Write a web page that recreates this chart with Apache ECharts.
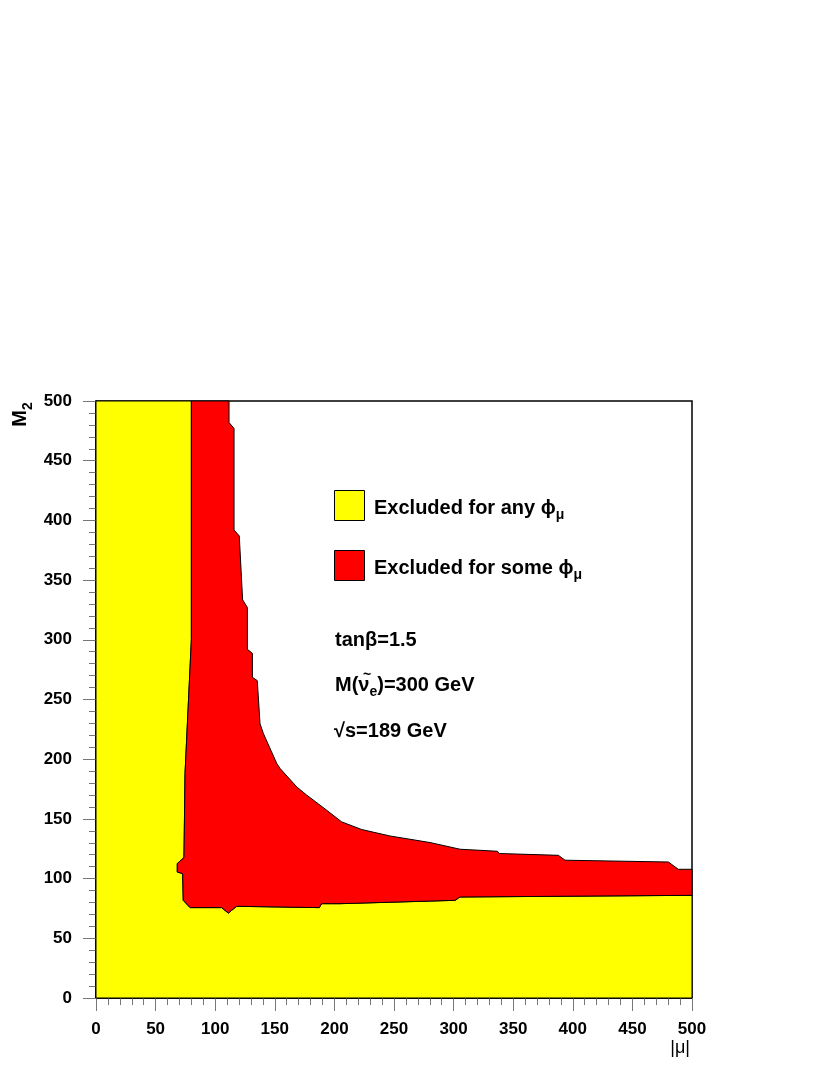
<!DOCTYPE html>
<html>
<head>
<meta charset="utf-8">
<script src="https://cdn.jsdelivr.net/npm/echarts@6/dist/echarts.min.js"></script>
<style>
html,body{margin:0;padding:0;background:#fff;}
#c{width:830px;height:1075px;}
</style>
</head>
<body>
<div id="c"></div>
<script>
// ---- data (|mu|, M2) ----
const axisMin = 0;
const axisMax = 500;
const tickStep = 50;

// boundary between "excluded for any phi" (yellow) and "excluded for some phi" (red)
const anyBoundaryMu = [80, 80, 74.7, 73.8, 68.2, 68.2, 72.7, 73.2, 78.9, 105.4, 111, 118, 187.3, 189.3, 204.7, 301.2, 305.4, 500];
const anyBoundaryM2 = [500, 300, 188, 117.6, 112.6, 105.5, 104.2, 81.8, 75.7, 75.7, 71.1, 76.8, 75.7, 79, 79, 81.8, 84.6, 86];

// boundary between "excluded for some phi" (red) and allowed (white)
const someBoundaryMu = [111.6, 111.6, 115.8, 115.8, 120.2, 123, 127, 127, 131.2, 131.2, 135.3, 137.6, 140.4, 151.6, 154.4, 168.4, 176.8, 193.5, 206.1, 222.9, 246.6, 280.2, 305.4, 336.7, 338.4, 387.9, 393.5, 480.2, 488.5, 500];
const someBoundaryM2 = [500, 482, 477, 392, 387, 333.5, 327, 292, 288.7, 268.6, 265.8, 229.7, 221.6, 196.5, 192.3, 176.8, 169.9, 157.3, 147.5, 141.1, 135.7, 130.2, 124.6, 122.9, 121, 119.5, 115.4, 113.9, 107.8, 107.8];

const legendLabels = ['Excluded for any ϕ', 'Excluded for some ϕ'];
const legendSub = 'μ';
const colAny = '#ffff00';
const colSome = '#ff0000';

// ---- polygons built from the arrays ----
function zipPts(xs, ys) { return xs.map((x, i) => [x, ys[i]]); }
const anyPts = zipPts(anyBoundaryMu, anyBoundaryM2);
const somePts = zipPts(someBoundaryMu, someBoundaryM2);
const yellowPoly = [[axisMin, axisMax]].concat(anyPts, [[axisMax, axisMin], [axisMin, axisMin]]);
const redPoly = somePts.concat(anyPts.slice().reverse());

function polySeries(poly, fill) {
  return {
    type: 'custom',
    coordinateSystem: 'cartesian2d',
    data: [[poly[0][0], poly[0][1]]],
    silent: true,
    renderItem: function (params, api) {
      const pts = poly.map(p => api.coord(p));
      return {
        type: 'polygon',
        shape: { points: pts },
        style: { fill: fill, stroke: '#000', lineWidth: 1 }
      };
    }
  };
}

const FF = '"Liberation Sans", Arial, Helvetica, sans-serif';
const tickColor = '#777';

function axisCommon() {
  return {
    type: 'value',
    min: axisMin,
    max: axisMax,
    interval: tickStep,
    axisLine: { show: true, onZero: false, lineStyle: { color: '#000', width: 1.5 } },
    axisTick: { show: true, inside: false, length: 13, lineStyle: { color: tickColor, width: 1 } },
    minorTick: { show: true, splitNumber: 5, length: 7, lineStyle: { color: tickColor, width: 1 } },
    splitLine: { show: false },
    minorSplitLine: { show: false },
    axisLabel: { color: '#000', fontFamily: FF, fontWeight: 'bold', fontSize: 17, showMinLabel: true, showMaxLabel: true, hideOverlap: false }
  };
}

const xAxis = axisCommon();
xAxis.axisLabel.margin = 23;
const yAxis = axisCommon();
yAxis.axisLabel.margin = 24;

function txt(x, y, rich, text, extra) {
  return Object.assign({
    type: 'text', x: x, y: y, z: 100,
    style: {
      text: text, rich: rich,
      fill: '#000',
      font: 'bold 20px ' + FF,
      align: 'left', textAlign: 'left',
      verticalAlign: 'middle', textVerticalAlign: 'middle'
    }
  }, extra || {});
}

const richSub = {
  m: { fontFamily: FF, fontWeight: 'bold', fontSize: 20, lineHeight: 20, fill: '#000', color: '#000' },
  s: { fontFamily: FF, fontWeight: 'bold', fontSize: 14, lineHeight: 14, padding: [14, 0, 0, 0], fill: '#000', color: '#000' }
};

const graphics = [
  { type: 'rect', x: 334.5, y: 490.5, shape: { width: 30, height: 30 }, style: { fill: colAny, stroke: '#000', lineWidth: 1 }, z: 100 },
  { type: 'rect', x: 334.5, y: 550.5, shape: { width: 30, height: 30 }, style: { fill: colSome, stroke: '#000', lineWidth: 1 }, z: 100 },
  txt(374, 508, richSub, '{m|' + legendLabels[0] + '}{s|' + legendSub + '}'),
  txt(374, 568, richSub, '{m|' + legendLabels[1] + '}{s|' + legendSub + '}'),
  txt(335, 640, null, 'tanβ=1.5'),
  txt(335, 685, richSub, '{m|M(ν}{s|e}{m|)=300 GeV}'),
  { type: 'text', x: 367, y: 675, z: 101, style: { text: '~', font: 'bold 14px ' + FF, fill: '#000', align: 'center', textAlign: 'center', verticalAlign: 'middle', textVerticalAlign: 'middle' } },
  txt(334, 731, null, '√s=189 GeV'),
  // y axis title M_2 (rotated)
  { type: 'text', x: 20, y: 410, rotation: Math.PI / 2, z: 100, style: { text: 'M', font: 'bold 20px ' + FF, fill: '#000', align: 'right', textAlign: 'right', verticalAlign: 'middle', textVerticalAlign: 'middle' } },
  { type: 'text', x: 28, y: 410, rotation: Math.PI / 2, z: 100, style: { text: '2', font: 'bold 14px ' + FF, fill: '#000', align: 'left', textAlign: 'left', verticalAlign: 'middle', textVerticalAlign: 'middle' } },
  // x axis title |mu|
  { type: 'text', x: 690, y: 1048, z: 100, style: { text: '|μ|', font: '18px ' + FF, fill: '#000', align: 'right', textAlign: 'right', verticalAlign: 'middle', textVerticalAlign: 'middle' } }
];

const chart = echarts.init(document.getElementById('c'), null, { renderer: 'canvas' });
chart.setOption({
  animation: false,
  backgroundColor: '#fff',
  grid: { left: 96, top: 401, width: 596, height: 597, show: true, borderColor: '#000', borderWidth: 1.5, backgroundColor: '#fff', containLabel: false },
  xAxis: xAxis,
  yAxis: yAxis,
  series: [polySeries(yellowPoly, colAny), polySeries(redPoly, colSome)],
  graphic: graphics
});
</script>
</body>
</html>
